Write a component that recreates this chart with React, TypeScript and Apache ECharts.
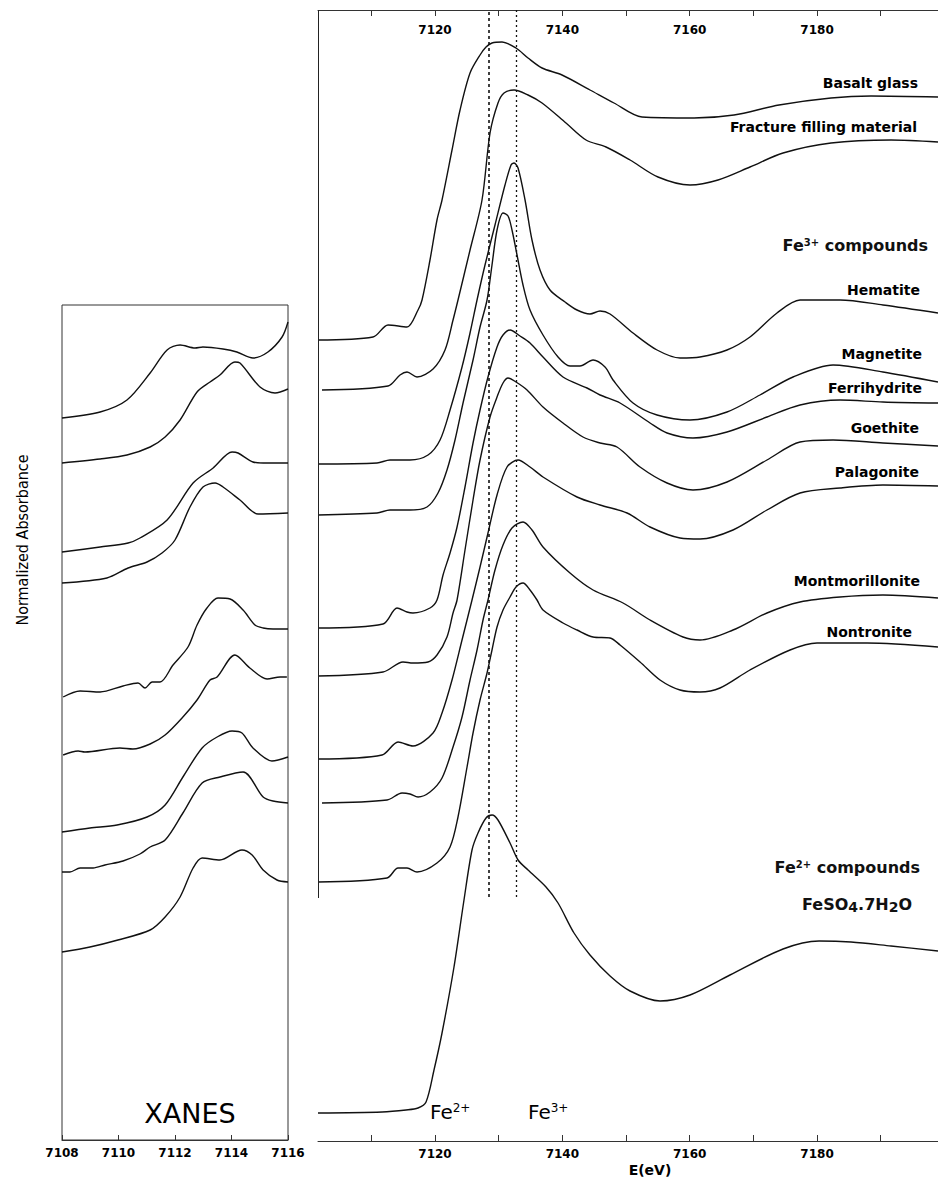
import React, { useEffect, useRef } from "react";
import * as echarts from "echarts";

// ---------------- DATA ----------------
// Pre-edge inset (XANES): energy (eV) vs normalized absorbance + stacking offset
const insetTickLabels = [7108, 7110, 7112, 7114, 7116];
const preEdge1 = [[7108.0,7.22],[7109.35,7.28],[7110.3,7.4],[7111.12,7.67],[7111.72,7.9],[7112.18,7.95],[7112.71,7.92],[7112.99,7.93],[7113.7,7.91],[7114.19,7.88],[7114.76,7.82],[7115.29,7.88],[7115.79,8.03],[7116.0,8.18]];
const preEdge2 = [[7108.0,6.77],[7109.35,6.81],[7110.3,6.85],[7111.12,6.93],[7111.65,7.03],[7112.18,7.2],[7112.78,7.48],[7113.24,7.58],[7113.59,7.65],[7114.12,7.78],[7114.3,7.77],[7115.01,7.53],[7115.54,7.47],[7116.0,7.51]];
const preEdge3 = [[7108.0,5.88],[7109.35,5.93],[7110.34,5.97],[7110.76,6.02],[7111.72,6.2],[7112.64,6.57],[7113.35,6.72],[7114.02,6.88],[7114.23,6.87],[7114.76,6.78],[7115.12,6.77],[7116.0,6.77]];
const preEdge4 = [[7108.0,5.57],[7109.59,5.62],[7110.34,5.72],[7111.01,5.78],[7111.54,5.87],[7112.0,6.0],[7112.53,6.33],[7112.99,6.53],[7113.42,6.57],[7113.7,6.53],[7114.3,6.4],[7114.94,6.26],[7116.0,6.27]];
const preEdge5 = [[7108.04,4.43],[7108.64,4.49],[7109.35,4.48],[7110.16,4.54],[7110.69,4.57],[7110.94,4.52],[7111.19,4.58],[7111.47,4.58],[7111.93,4.75],[7112.46,4.93],[7112.78,5.15],[7113.13,5.32],[7113.52,5.42],[7113.95,5.41],[7114.41,5.3],[7114.83,5.15],[7115.12,5.12],[7115.47,5.11],[7116.0,5.11]];
const preEdge6 = [[7108.04,3.85],[7108.57,3.89],[7108.81,3.88],[7110.05,3.92],[7110.51,3.91],[7111.12,3.96],[7111.65,4.05],[7112.28,4.23],[7112.78,4.4],[7113.24,4.6],[7113.49,4.63],[7114.12,4.85],[7114.65,4.72],[7115.26,4.61],[7115.72,4.63],[7115.96,4.63]];
const preEdge7 = [[7108.0,3.08],[7108.99,3.12],[7109.95,3.15],[7111.01,3.23],[7111.65,3.35],[7112.28,3.63],[7112.96,3.92],[7113.49,4.03],[7114.02,4.09],[7114.37,4.07],[7114.76,3.92],[7115.43,3.79],[7116.0,3.83]];
const preEdge8 = [[7108.0,2.68],[7108.28,2.68],[7108.64,2.72],[7109.1,2.72],[7109.52,2.75],[7110.16,2.79],[7110.76,2.86],[7111.12,2.93],[7111.65,3.0],[7112.28,3.27],[7112.96,3.57],[7113.59,3.63],[7114.41,3.68],[7115.12,3.43],[7115.47,3.39],[7116.0,3.37]];
const preEdge9 = [[7108.0,1.88],[7108.99,1.93],[7109.98,2.0],[7111.12,2.1],[7111.65,2.23],[7112.18,2.43],[7112.64,2.72],[7112.96,2.82],[7113.59,2.8],[7114.37,2.9],[7114.73,2.85],[7115.12,2.7],[7115.61,2.6],[7116.0,2.58]];

// Main panel: Fe K-edge XANES, energy (eV) vs normalized absorbance + stacking offset
const mainTickValues = [7110, 7120, 7130, 7140, 7150, 7160, 7170, 7180, 7190];
const mainTickLabels = [7120, 7140, 7160, 7180];
const edgeFe2 = 7128.5;
const edgeFe3 = 7132.7;

const basaltGlass = [[7101.62,8.01],[7110.26,8.04],[7112.62,8.16],[7115.6,8.14],[7117.33,8.31],[7117.96,8.41],[7119.21,8.81],[7120.31,9.21],[7121.1,9.41],[7122.67,9.91],[7123.93,10.31],[7125.5,10.68],[7127.07,10.86],[7128.01,10.94],[7128.95,10.98],[7130.52,10.99],[7132.72,10.93],[7134.61,10.83],[7136.81,10.73],[7139.95,10.66],[7144.34,10.51],[7148.11,10.38],[7152.51,10.24],[7160.68,10.23],[7166.96,10.26],[7174.03,10.36],[7182.2,10.43],[7188.48,10.45],[7199.0,10.44]];
const fractureFilling = [[7102.25,7.51],[7112.62,7.55],[7114.5,7.66],[7115.6,7.69],[7117.17,7.64],[7119.69,7.72],[7121.57,7.91],[7122.83,8.21],[7123.61,8.41],[7125.5,8.91],[7127.38,9.41],[7128.64,10.08],[7129.89,10.38],[7130.84,10.48],[7132.41,10.51],[7134.61,10.46],[7136.81,10.38],[7140.57,10.18],[7143.72,10.01],[7146.86,9.94],[7150.63,9.81],[7155.02,9.64],[7160.05,9.56],[7164.45,9.61],[7169.47,9.74],[7174.66,9.88],[7182.2,9.98],[7191.62,10.01],[7199.0,9.99]];
const hematite = [[7101.62,6.77],[7110.89,6.78],[7112.93,6.81],[7116.07,6.81],[7118.9,6.86],[7120.79,7.01],[7122.36,7.31],[7124.24,7.74],[7125.5,8.08],[7126.6,8.41],[7127.85,8.76],[7129.42,9.16],[7130.99,9.56],[7131.94,9.76],[7132.41,9.78],[7133.04,9.73],[7134.14,9.41],[7135.23,9.01],[7136.49,8.71],[7138.06,8.51],[7140.42,8.39],[7142.3,8.31],[7144.34,8.27],[7145.92,8.3],[7147.49,8.27],[7151.1,8.08],[7154.87,7.91],[7158.48,7.83],[7161.62,7.84],[7165.86,7.91],[7169.47,8.04],[7173.71,8.28],[7177.33,8.41],[7183.61,8.41],[7190.36,8.36],[7199.0,8.28]];
const magnetite = [[7101.62,6.26],[7110.89,6.28],[7112.93,6.31],[7116.07,6.31],[7118.74,6.34],[7120.47,6.48],[7121.88,6.71],[7123.14,7.01],[7124.4,7.38],[7125.97,7.81],[7127.07,8.14],[7128.17,8.41],[7128.95,8.76],[7129.74,9.11],[7130.68,9.28],[7131.47,9.25],[7132.09,9.11],[7132.88,8.86],[7133.82,8.56],[7134.92,8.31],[7136.96,8.06],[7139.32,7.84],[7141.2,7.75],[7142.77,7.75],[7144.82,7.81],[7146.7,7.74],[7147.96,7.61],[7151.1,7.38],[7154.87,7.26],[7160.05,7.21],[7165.86,7.29],[7171.04,7.46],[7176.23,7.64],[7182.51,7.76],[7190.36,7.69],[7199.0,7.59]];
const ferrihydrite = [[7101.62,5.13],[7111.83,5.17],[7114.03,5.33],[7115.6,5.29],[7116.54,5.28],[7119.21,5.33],[7120.31,5.41],[7121.26,5.66],[7122.36,5.88],[7123.46,6.14],[7124.71,6.54],[7125.97,6.98],[7127.07,7.31],[7128.32,7.64],[7129.74,7.94],[7130.68,8.06],[7131.78,8.11],[7133.35,8.05],[7134.92,7.98],[7136.96,7.84],[7140.1,7.64],[7143.87,7.53],[7145.92,7.46],[7149.06,7.38],[7153.77,7.18],[7156.44,7.08],[7160.52,7.03],[7165.86,7.09],[7172.14,7.24],[7177.33,7.36],[7183.61,7.41],[7190.36,7.39],[7199.0,7.38]];
const goethite = [[7101.62,4.65],[7111.83,4.69],[7114.97,4.79],[7116.54,4.78],[7118.9,4.79],[7120.31,4.86],[7121.88,5.04],[7122.83,5.28],[7123.46,5.41],[7124.71,5.91],[7125.97,6.41],[7127.07,6.81],[7128.64,7.24],[7129.74,7.44],[7130.68,7.58],[7131.47,7.63],[7132.72,7.59],[7134.45,7.51],[7136.96,7.34],[7140.1,7.18],[7143.24,7.04],[7145.92,6.98],[7148.58,6.94],[7152.2,6.74],[7156.44,6.58],[7160.52,6.51],[7165.86,6.59],[7172.14,6.81],[7177.33,6.99],[7182.51,7.01],[7190.36,6.98],[7199.0,6.95]];
const palagonite = [[7101.62,3.82],[7111.68,3.86],[7114.19,3.99],[7116.54,3.95],[7119.69,4.08],[7121.1,4.28],[7122.67,4.61],[7124.24,5.01],[7125.81,5.41],[7127.07,5.74],[7128.32,6.08],[7129.74,6.46],[7131.31,6.74],[7133.04,6.81],[7134.92,6.74],[7136.96,6.64],[7142.3,6.44],[7145.92,6.36],[7150.16,6.28],[7153.77,6.14],[7158.48,6.03],[7161.62,6.02],[7166.8,6.11],[7172.14,6.31],[7177.33,6.48],[7183.61,6.53],[7190.36,6.56],[7199.0,6.55]];
const montmorillonite = [[7102.25,3.38],[7112.46,3.41],[7114.82,3.48],[7116.07,3.47],[7117.33,3.44],[7119.21,3.49],[7121.1,3.63],[7122.83,3.94],[7124.24,4.24],[7125.5,4.61],[7126.6,4.91],[7127.54,5.21],[7128.32,5.41],[7129.42,5.71],[7130.68,5.96],[7132.09,6.13],[7133.82,6.19],[7135.23,6.11],[7136.96,5.94],[7141.2,5.68],[7144.82,5.51],[7149.53,5.38],[7153.77,5.21],[7158.95,5.04],[7161.62,5.01],[7166.8,5.11],[7172.14,5.28],[7177.33,5.39],[7183.61,5.44],[7190.36,5.46],[7199.0,5.43]];
const nontronite = [[7101.62,2.59],[7112.46,2.63],[7114.19,2.73],[7115.6,2.73],[7117.17,2.69],[7120.31,2.78],[7122.36,2.94],[7123.61,3.24],[7125.03,3.74],[7125.97,4.08],[7127.07,4.41],[7128.17,4.68],[7128.95,4.91],[7129.74,5.14],[7130.68,5.31],[7131.78,5.44],[7132.72,5.54],[7133.82,5.58],[7134.92,5.51],[7136.02,5.41],[7136.96,5.31],[7140.1,5.18],[7142.3,5.11],[7144.82,5.04],[7147.49,5.03],[7149.06,4.96],[7152.2,4.79],[7155.34,4.61],[7158.48,4.51],[7161.62,4.49],[7164.76,4.53],[7169.47,4.71],[7175.76,4.91],[7180.0,4.98],[7187.85,4.98],[7199.0,4.94]];
const feSO4 = [[7101.62,0.28],[7111.68,0.29],[7115.45,0.31],[7117.33,0.33],[7118.59,0.39],[7119.84,0.71],[7121.1,1.08],[7122.98,1.74],[7124.55,2.41],[7125.81,2.91],[7126.75,3.08],[7128.01,3.23],[7128.95,3.26],[7129.89,3.21],[7131.78,2.98],[7133.04,2.81],[7134.61,2.71],[7137.43,2.54],[7139.32,2.38],[7141.83,2.08],[7144.34,1.86],[7147.49,1.65],[7150.63,1.50],[7155.34,1.40],[7160.05,1.46],[7166.33,1.66],[7174.66,1.92],[7180.31,2.0],[7185.34,1.99],[7191.62,1.95],[7199.0,1.9]];

const mainNames = ["Basalt glass", "Fracture filling material", "Hematite", "Magnetite", "Ferrihydrite", "Goethite", "Palagonite", "Montmorillonite", "Nontronite", "FeSO4.7H2O"];
const mainData = [basaltGlass, fractureFilling, hematite, magnetite, ferrihydrite, goethite, palagonite, montmorillonite, nontronite, feSO4];
const insetData = [preEdge1, preEdge2, preEdge3, preEdge4, preEdge5, preEdge6, preEdge7, preEdge8, preEdge9];

// ---------------- CHART ----------------
const FONT = "'DejaVu Sans', Arial, sans-serif";
const INK = "#111";

export default function App() {
  const ref = useRef<HTMLDivElement>(null);
  useEffect(() => {
    document.body.style.margin = "0";
    const chart = echarts.init(ref.current!, null, { renderer: "svg" });
    const mainMin = 7101.62, mainMax = 7199;
    const mainYMax = 11.31;
    const axisLabelStyle = { color: "#000", fontFamily: FONT, fontWeight: "bold", fontSize: 12, formatter: (v: number) => String(v) } as any;
    const lineBase = { type: "line", showSymbol: false, symbol: "none", smooth: 0.3, silent: true, lineStyle: { color: INK, width: 1.4 } };

    const series: any[] = [];
    insetData.forEach((d, i) => series.push({ ...lineBase, name: "pre-edge " + (i + 1), xAxisIndex: 0, yAxisIndex: 0, data: d }));
    mainData.forEach((d, i) => {
      const s: any = { ...lineBase, name: mainNames[i], xAxisIndex: 1, yAxisIndex: 1, data: d };
      if (i === mainData.length - 1) {
        s.clip = false;
        s.markLine = {
          silent: true, symbol: "none", label: { show: false },
          data: [
            [{ coord: [edgeFe2, 2.44], lineStyle: { type: [3, 3], color: INK, width: 1.6 } }, { coord: [edgeFe2, mainYMax] }],
            [{ coord: [edgeFe3, 2.44], lineStyle: { type: [2, 3], color: INK, width: 1.3 } }, { coord: [edgeFe3, mainYMax] }],
            [{ coord: [mainMin, 2.43], lineStyle: { type: "solid", color: "#222", width: 1 } }, { coord: [mainMin, mainYMax] }],
          ],
        };
      }
      series.push(s);
    });

    const label = (text: string, x: number, y: number, extra: any = {}) => ({
      type: "text", x, y, silent: true,
      style: { text, fill: "#000", fontFamily: FONT, fontWeight: "bold", fontSize: 14, align: "right", verticalAlign: "middle", ...extra },
    });
    const big = { fontFamily: FONT, fontSize: 16, fontWeight: "bold", fill: "#111" };
    const sup = { fontFamily: FONT, fontSize: 10, fontWeight: "bold", fill: "#111", verticalAlign: "top", lineHeight: 10 };
    const bigTop = { ...big, lineHeight: 18, verticalAlign: "top" };
    const sub = { fontFamily: FONT, fontSize: 14, fontWeight: "bold", fill: "#111", verticalAlign: "bottom", lineHeight: 8 };
    const bigReg = { fontFamily: FONT, fontSize: 20, fill: "#000" };
    const supReg = { fontFamily: FONT, fontSize: 12, fill: "#000", verticalAlign: "top", lineHeight: 12 };

    chart.setOption({
      animation: false,
      backgroundColor: "#fff",
      grid: [
        { left: 62, top: 305, width: 226, height: 835, show: true, borderColor: "#333", borderWidth: 1, backgroundColor: "transparent" },
        { left: 318, top: 10, width: 620, height: 1131, show: false },
      ],
      xAxis: [
        {
          gridIndex: 0, type: "value", min: 7108, max: 7116, interval: 2, position: "bottom",
          axisLine: { show: true, lineStyle: { color: "#333", width: 1 } },
          axisTick: { show: true, inside: true, length: 5, lineStyle: { color: "#333" } },
          axisLabel: { ...axisLabelStyle, margin: 7, showMinLabel: true, showMaxLabel: true, customValues: insetTickLabels },
          splitLine: { show: false },
        },
        {
          gridIndex: 1, type: "value", min: mainMin, max: mainMax, position: "bottom",
          axisLine: { show: true, onZero: false, lineStyle: { color: "#333", width: 1 } },
          axisTick: { show: true, inside: true, length: 6, lineStyle: { color: "#333" }, customValues: mainTickValues },
          axisLabel: { ...axisLabelStyle, margin: 7, customValues: mainTickLabels },
          splitLine: { show: false },
        },
        {
          gridIndex: 1, type: "value", min: mainMin, max: mainMax, position: "top",
          axisLine: { show: true, onZero: false, lineStyle: { color: "#333", width: 1 } },
          axisTick: { show: true, inside: true, length: 6, lineStyle: { color: "#333" }, customValues: mainTickValues },
          axisLabel: { ...axisLabelStyle, inside: true, margin: 14, customValues: mainTickLabels },
          splitLine: { show: false },
        },
      ],
      yAxis: [
        { gridIndex: 0, type: "value", min: 0, max: 8.35, show: false },
        { gridIndex: 1, type: "value", min: 0, max: mainYMax, show: false },
      ],
      series,
      graphic: [
        label("Basalt glass", 918, 83),
        label("Fracture filling material", 917, 127),
        label("Hematite", 920, 290),
        label("Magnetite", 922, 354),
        label("Ferrihydrite", 922, 388),
        label("Goethite", 919, 428),
        label("Palagonite", 919, 472),
        label("Montmorillonite", 920, 581),
        label("Nontronite", 912, 632),
        label("{b|Fe}{s|3+}{b| compounds}", 928, 245, { rich: { b: big, s: sup } }),
        label("{b|Fe}{s|2+}{b| compounds}", 920, 867, { rich: { b: big, s: sup } }),
        label("{b|FeSO}{d|4}{b|.7H}{d|2}{b|O}", 912, 905, { rich: { b: bigTop, d: sub } }),
        label("{b|Fe}{s|2+}", 430, 1112, { align: "left", rich: { b: bigReg, s: supReg } }),
        label("{b|Fe}{s|3+}", 528, 1112, { align: "left", rich: { b: bigReg, s: supReg } }),
        label("E(eV)", 650, 1170, { align: "center", fontSize: 14 }),
        label("XANES", 190, 1113, { align: "center", fontWeight: "normal", fontSize: 27 }),
        {
          type: "text", x: 22, y: 540, rotation: Math.PI / 2, silent: true,
          style: { text: "Normalized Absorbance", fill: "#000", fontFamily: "'Liberation Sans Narrow', 'DejaVu Sans Condensed', Arial, sans-serif", fontSize: 16, align: "center", verticalAlign: "middle" },
        },
      ],
    });
    return () => chart.dispose();
  }, []);
  return <div ref={ref} style={{ width: 938, height: 1186, position: "absolute", left: 0, top: 0 }} />;
}
